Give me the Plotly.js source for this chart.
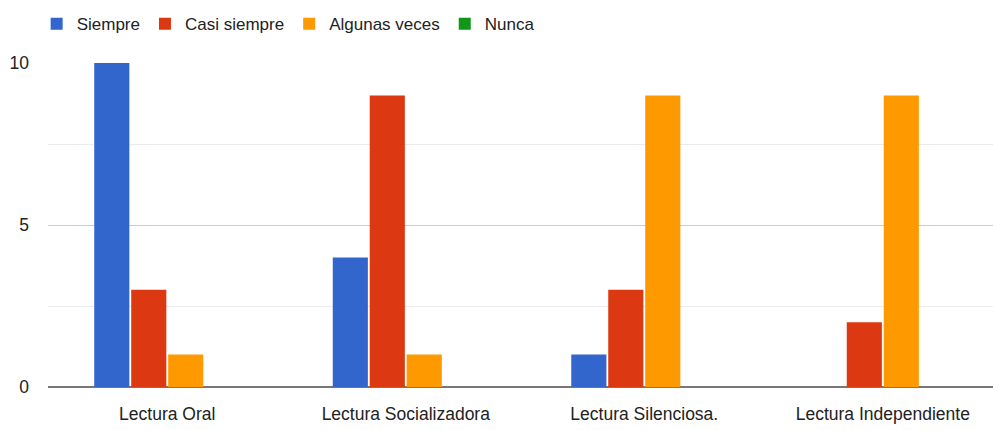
<!DOCTYPE html>
<html>
<head>
<meta charset="utf-8">
<script src="https://cdn.plot.ly/plotly-3.0.1.min.js"></script>
<style>html,body{margin:0;padding:0;background:#fff;}#chart{width:993px;height:430px;}</style>
</head>
<body>
<div id="chart"></div>
<script>
const categories = ["Lectura Oral", "Lectura Socializadora", "Lectura Silenciosa.", "Lectura Independiente"];
const seriesNames = ["Siempre", "Casi siempre", "Algunas veces", "Nunca"];
const siempre = [10, 4, 1, 0];
const casiSiempre = [3, 9, 3, 2];
const algunasVeces = [1, 1, 9, 9];
const nunca = [0, 0, 0, 0];
const colors = ["#3366cc", "#dc3912", "#ff9900", "#109618"];
const yTickVals = [0, 5, 10];

const values = [siempre, casiSiempre, algunasVeces, nunca];
const traces = values.map((v, i) => ({
  type: "bar",
  name: seriesNames[i],
  x: categories,
  y: v,
  marker: {color: colors[i]},
  hoverinfo: "x+y+name"
}));

const font = {family: "Liberation Sans, Arial, sans-serif", size: 17.5, color: "#222"};
const layout = {
  width: 993, height: 430,
  margin: {l: 48, r: 0, t: 63, b: 43},
  paper_bgcolor: "#fff", plot_bgcolor: "#fff",
  font: font,
  barmode: "group",
  bargap: 0.38,
  bargroupgap: 0.05,
  showlegend: true,
  legend: {
    orientation: "h", x: -0.012, y: 1.12, xanchor: "left", yanchor: "middle",
    font: {family: font.family, size: 17, color: "#222"},
    itemwidth: 30, traceorder: "normal"
  },
  xaxis: {
    type: "category",
    range: [-0.5, 3.462],
    showgrid: false, showline: false, zeroline: false,
    ticks: "", tickfont: font, ticklabelstandoff: 14
  },
  yaxis: {
    range: [0, 10],
    tickvals: yTickVals,
    ticktext: yTickVals.map(String),
    showgrid: true, gridcolor: "#cccccc", gridwidth: 1,
    minor: {dtick: 2.5, showgrid: true, gridcolor: "#ebebeb", gridwidth: 1},
    zeroline: true, zerolinecolor: "#777", zerolinewidth: 1.5,
    showline: false, ticks: "", ticklabelstandoff: 18,
    tickfont: font
  }
};
Plotly.newPlot("chart", traces, layout, {displayModeBar: false, staticPlot: true});
</script>
</body>
</html>
